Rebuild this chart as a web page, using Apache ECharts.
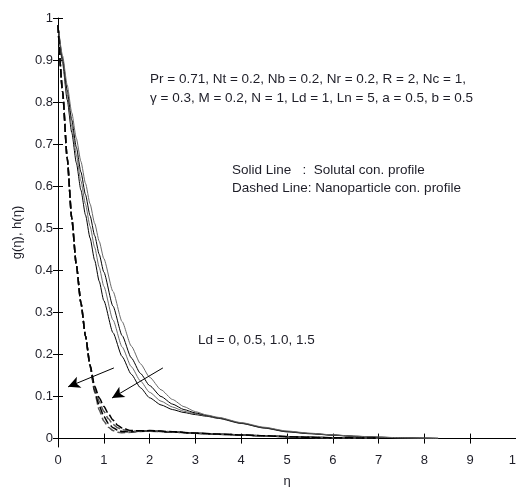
<!DOCTYPE html>
<html>
<head>
<meta charset="utf-8">
<title>Solutal and nanoparticle concentration profiles</title>
<script src="https://cdn.jsdelivr.net/npm/echarts@6/dist/echarts.min.js"></script>
<style>
  html, body { margin: 0; padding: 0; background: #fff; }
  #chart { width: 516px; height: 487px; }
</style>
</head>
<body>
<div id="chart"></div>
<script>
// Ld values for the four profiles of each family
const ldValues = [1.5, 1.0, 0.5, 0];

// Solutal concentration g(eta), solid lines
const etaSolid = [0, 0.1, 0.2, 0.3, 0.4, 0.5, 0.6, 0.7, 0.8, 0.9, 1.0, 1.2, 1.4, 1.6, 1.8, 2.0,
                  2.25, 2.5, 2.75, 3.0, 3.25, 3.5, 4.0, 4.5, 5.0, 5.5, 6.0, 6.5, 7.0, 7.5, 8.0, 8.3];
const gLd15 = [0.983, 0.893, 0.806, 0.728, 0.656, 0.591, 0.532, 0.477, 0.424, 0.374, 0.328, 0.252, 0.195, 0.153, 0.121, 0.097,
               0.080, 0.069, 0.062, 0.057, 0.053, 0.048, 0.036, 0.025, 0.016, 0.0115, 0.008, 0.005, 0.003, 0.0018, 0.0009, 0.0004];
const gLd10 = [0.983, 0.898, 0.817, 0.743, 0.675, 0.613, 0.557, 0.505, 0.455, 0.407, 0.362, 0.282, 0.218, 0.171, 0.137, 0.110,
               0.089, 0.075, 0.065, 0.059, 0.054, 0.049, 0.0365, 0.0255, 0.0165, 0.012, 0.0083, 0.0053, 0.0031, 0.0019, 0.001, 0.0005];
const gLd05 = [0.983, 0.904, 0.829, 0.758, 0.693, 0.634, 0.580, 0.530, 0.483, 0.438, 0.396, 0.315, 0.245, 0.192, 0.155, 0.126,
               0.100, 0.082, 0.069, 0.061, 0.055, 0.0495, 0.037, 0.026, 0.017, 0.0122, 0.0085, 0.0055, 0.0032, 0.002, 0.001, 0.0005];
const gLd00 = [0.983, 0.910, 0.841, 0.775, 0.714, 0.659, 0.607, 0.558, 0.512, 0.469, 0.428, 0.350, 0.278, 0.220, 0.178, 0.146,
               0.116, 0.093, 0.076, 0.064, 0.056, 0.0505, 0.038, 0.027, 0.018, 0.0128, 0.0088, 0.0057, 0.0034, 0.0021, 0.0011, 0.0006];

// Nanoparticle concentration h(eta), dashed lines
const etaDashed = [0, 0.1, 0.2, 0.3, 0.4, 0.5, 0.6, 0.7, 0.8, 0.9, 1.0, 1.1, 1.2, 1.3, 1.4, 1.6, 1.8, 2.0,
                   2.5, 3.0, 3.5, 4.0, 4.5, 5.0, 5.5, 6.0, 7.0];
const hLd15 = [0.983, 0.825, 0.668, 0.524, 0.413, 0.323, 0.244, 0.172, 0.110, 0.068, 0.042, 0.027, 0.019, 0.015, 0.014, 0.015, 0.017, 0.0175,
               0.0155, 0.0125, 0.0105, 0.0085, 0.0065, 0.0045, 0.003, 0.002, 0.001];
const hLd10 = [0.983, 0.825, 0.668, 0.524, 0.413, 0.323, 0.244, 0.173, 0.115, 0.078, 0.053, 0.036, 0.026, 0.020, 0.017, 0.016, 0.0175, 0.018,
               0.0158, 0.0126, 0.0105, 0.0085, 0.0065, 0.0045, 0.003, 0.002, 0.001];
const hLd05 = [0.983, 0.825, 0.668, 0.524, 0.413, 0.323, 0.244, 0.174, 0.120, 0.088, 0.065, 0.047, 0.034, 0.026, 0.021, 0.017, 0.018, 0.0185,
               0.0162, 0.0127, 0.0106, 0.0086, 0.0066, 0.0046, 0.003, 0.002, 0.001];
const hLd00 = [0.983, 0.825, 0.668, 0.524, 0.413, 0.323, 0.244, 0.175, 0.125, 0.097, 0.077, 0.059, 0.044, 0.032, 0.025, 0.019, 0.0185, 0.019,
               0.0165, 0.013, 0.0107, 0.0087, 0.0067, 0.0047, 0.0031, 0.0021, 0.001];

// Axis tick labels
const xTicks = [0, 1, 2, 3, 4, 5, 6, 7, 8, 9, 10];
const yTicks = [0, 0.1, 0.2, 0.3, 0.4, 0.5, 0.6, 0.7, 0.8, 0.9, 1];

// Arrows showing the direction of increasing Ld: [eta0, v0, eta1, v1]
const arrowsLd = [[1.22, 0.168, 0.22, 0.123], [2.29, 0.168, 1.18, 0.0965]];

const pairs = (xs, ys) => xs.map((x, i) => [x, ys[i]]);
const font = 'Arial, "Liberation Sans", sans-serif';
const textColor = '#1e1e28';
const noteFont = '13.5px ' + font;

const solidSets = [gLd15, gLd10, gLd05, gLd00];
const dashedSets = [hLd15, hLd10, hLd05, hLd00];
const solidColors = ['#000000', '#6a6a6a', '#000000', '#6a6a6a'];
const dashedColors = ['#555555', '#000000', '#555555', '#000000'];

const series = [];
solidSets.forEach((ys, i) => {
  series.push({
    name: 'g, Ld = ' + ldValues[i],
    type: 'line',
    data: pairs(etaSolid, ys),
    showSymbol: false,
    smooth: 0.2,
    smoothMonotone: 'x',
    lineStyle: { color: solidColors[i], width: 1, type: 'solid' },
    z: 3
  });
});
dashedSets.forEach((ys, i) => {
  series.push({
    name: 'h, Ld = ' + ldValues[i],
    type: 'line',
    data: pairs(etaDashed, ys),
    showSymbol: false,
    smooth: 0.2,
    smoothMonotone: 'x',
    lineStyle: { color: dashedColors[i], width: 1.5, type: [8, 3] },
    z: 4
  });
});
// Direction arrows
series.push({
  name: 'arrows',
  type: 'line',
  data: [],
  markLine: {
    silent: true,
    animation: false,
    symbol: ['none', 'arrow'],
    symbolSize: [9, 12],
    label: { show: false },
    lineStyle: { color: '#000', width: 1, type: 'solid' },
    data: arrowsLd.map(a => [{ coord: [a[0], a[1]] }, { coord: [a[2], a[3]] }])
  }
});

const chart = echarts.init(document.getElementById('chart'), null, { renderer: 'canvas' });
chart.setOption({
  animation: false,
  backgroundColor: '#ffffff',
  grid: { left: 58, right: 0, top: 18, bottom: 40, containLabel: false, outerBoundsMode: 'none' },
  xAxis: [{
    type: 'value', min: 0, max: 10, interval: 1,
    name: 'η', nameLocation: 'middle', nameGap: 28,
    nameTextStyle: { fontFamily: font, fontSize: 13, color: textColor },
    axisLine: { show: true, lineStyle: { color: '#000', width: 1 } },
    axisTick: { show: true, inside: true, length: 5, lineStyle: { color: '#000' } },
    axisLabel: { fontFamily: font, fontSize: 13, color: textColor, margin: 7 },
    splitLine: { show: false }
  }, {
    type: 'value', min: 0, max: 10, interval: 1, position: 'top',
    axisLine: { show: true, lineStyle: { color: '#000', width: 1 } },
    axisTick: { show: true, inside: true, length: 5, lineStyle: { color: '#000' } },
    axisLabel: { show: false },
    splitLine: { show: false }
  }],
  yAxis: [{
    type: 'value', min: -0.02, max: 1,
    name: 'g(η), h(η)', nameLocation: 'middle', nameGap: 32,
    nameTextStyle: { fontFamily: font, fontSize: 13, color: textColor },
    axisLine: { show: true, lineStyle: { color: '#000', width: 1 } },
    axisTick: { show: true, inside: true, length: 5, customValues: yTicks, lineStyle: { color: '#000' } },
    axisLabel: { fontFamily: font, fontSize: 13, color: textColor, margin: 5, customValues: yTicks },
    splitLine: { show: false }
  }, {
    type: 'value', min: -0.02, max: 1, position: 'right',
    axisLine: { show: false },
    axisTick: { show: true, inside: true, length: 5, customValues: yTicks, lineStyle: { color: '#000' } },
    axisLabel: { show: false },
    splitLine: { show: false }
  }],
  graphic: [
    { type: 'text', left: 150, top: 72, style: { text: 'Pr = 0.71, Nt = 0.2, Nb = 0.2, Nr = 0.2, R = 2, Nc = 1,', font: noteFont, fill: textColor } },
    { type: 'text', left: 150, top: 91, style: { text: 'γ = 0.3, M = 0.2, N = 1, Ld = 1, Ln = 5, a = 0.5, b = 0.5', font: noteFont, fill: textColor } },
    { type: 'text', left: 232, top: 163, style: { text: 'Solid Line   :  Solutal con. profile', font: noteFont, fill: textColor } },
    { type: 'text', left: 232, top: 181, style: { text: 'Dashed Line: Nanoparticle con. profile', font: noteFont, fill: textColor } },
    { type: 'text', left: 198, top: 333, style: { text: 'Ld = 0, 0.5, 1.0, 1.5', font: noteFont, fill: textColor } }
  ],
  series: series
});
</script>
</body>
</html>
